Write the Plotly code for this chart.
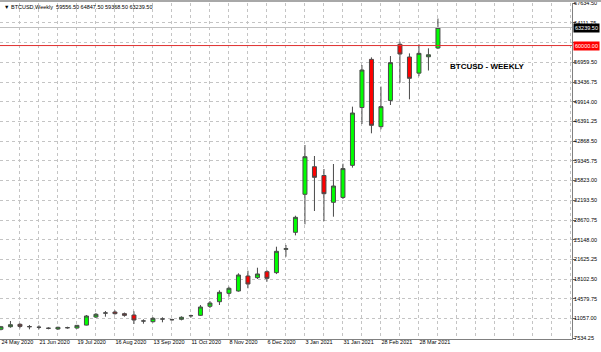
import plotly.graph_objects as go

# ---- data ----
WEEKS = ["2020-05-24", "2020-05-31", "2020-06-07", "2020-06-14", "2020-06-21", "2020-06-28",
         "2020-07-05", "2020-07-12", "2020-07-19", "2020-07-26", "2020-08-02", "2020-08-09",
         "2020-08-16", "2020-08-23", "2020-08-30", "2020-09-06", "2020-09-13", "2020-09-20",
         "2020-09-27", "2020-10-04", "2020-10-11", "2020-10-18", "2020-10-25", "2020-11-01",
         "2020-11-08", "2020-11-15", "2020-11-22", "2020-11-29", "2020-12-06", "2020-12-13",
         "2020-12-20", "2020-12-27", "2021-01-03", "2021-01-10", "2021-01-17", "2021-01-24",
         "2021-01-31", "2021-02-07", "2021-02-14", "2021-02-21", "2021-02-28", "2021-03-07",
         "2021-03-14", "2021-03-21", "2021-03-28", "2021-04-04", "2021-04-11"]

OPEN = [9095, 9561, 9990, 9590, 9470, 9290, 9150, 9370, 9330, 9850, 11302, 12000,
        12198, 11900, 11660, 10600, 10460, 10950, 10830, 10890, 11530, 11600, 13220, 14046,
        15554, 15966, 18657, 18358, 19430, 19260, 23450, 26495, 33314, 38265, 36691, 31878,
        32753, 38512, 48880, 57523, 45450, 50150, 60225, 57946, 55053, 57990, 59556.5]
HIGH = [9700, 10584, 10170, 9870, 9800, 9455, 9560, 9560, 9880, 11660, 12019, 12378,
        12500, 12100, 12325, 10884, 11300, 11250, 11000, 11430, 11720, 13454, 14170, 16090,
        16737, 19140, 19610, 20145, 19700, 23913, 24218, 29474, 42158, 40185, 37853, 38750,
        38803, 49040, 56510, 57880, 52640, 58120, 60690, 58600, 60225, 59500, 64847.5]
LOW = [8900, 9380, 9275, 9095, 9095, 9095, 9000, 9200, 9200, 9800, 11122, 11360,
       11720, 11360, 10046, 10100, 10300, 10350, 10650, 10700, 11200, 11480, 12900, 13454,
       14943, 15850, 16450, 18120, 17640, 19000, 22120, 25950, 27932, 30318, 28500, 29296,
       32470, 38100, 45925, 44257, 44975, 49335, 53335, 50355, 54500, 55520, 59368.5]
CLOSE = [9561, 9920, 9620, 9560, 9454, 9275, 9454, 9390, 9800, 11481, 11786, 12030,
         11900, 11600, 10763, 10584, 11060, 10943, 10820, 11250, 11540, 13095, 13810, 15733,
         16450, 18837, 17222, 19020, 18240, 23085, 23550, 29186, 40059, 36360, 33421, 34803,
         37930, 47900, 55612, 45690, 49040, 56930, 58485, 54126, 58600, 58350, 63239.5]

# time-scale labels (bar index -> text)
X_LABELS = {0: "24 May 2020", 4: "21 Jun 2020", 8: "19 Jul 2020", 12: "16 Aug 2020",
            16: "13 Sep 2020", 20: "11 Oct 2020", 24: "8 Nov 2020", 28: "6 Dec 2020",
            32: "3 Jan 2021", 36: "31 Jan 2021", 40: "28 Feb 2021", 44: "28 Mar 2021"}

# price-scale labels (the 60482.25 label is hidden behind the level box in the reference)
Y_TICKS = [7534.25, 11057.00, 14579.75, 18102.50, 21625.25, 25148.00, 28670.75, 32193.50,
           35823.00, 39345.75, 42868.50, 46391.25, 49914.00, 53436.75, 56959.50, 60482.25,
           64111.75, 67634.50]
HIDDEN_Y_LABELS = [60482.25]

LEVEL = 60000.00          # red horizontal level
SYMBOL = "BTCUSD"
PERIOD = "Weekly"
TITLE_TEXT = "BTCUSD - WEEKLY"

# ---- figure ----
idx = list(range(len(WEEKS)))
last_close = CLOSE[-1]

fig = go.Figure()
fig.add_trace(go.Candlestick(
    x=idx, open=OPEN, high=HIGH, low=LOW, close=CLOSE,
    increasing=dict(fillcolor="#00ff00", line=dict(color="#4a4a4a", width=1)),
    decreasing=dict(fillcolor="#ff0000", line=dict(color="#4a4a4a", width=1)),
    whiskerwidth=0, showlegend=False, text=WEEKS, hoverinfo="x+y+text",
))

grid_vals = list(range(0, 62, 2))
grid_text = [X_LABELS.get(v, "") for v in grid_vals]

FONT = "Liberation Sans, Arial, sans-serif"
SMALL = 5.5

fig.update_layout(
    width=601, height=352,
    margin=dict(l=0, r=29, t=3, b=13),
    paper_bgcolor="white", plot_bgcolor="white",
    boxgap=0.4,
    font=dict(family=FONT, size=SMALL, color="black"),
    xaxis=dict(
        range=[-0.1, 60.11], rangeslider=dict(visible=False), automargin=False,
        tickvals=grid_vals, ticktext=grid_text, ticklabelposition="outside right",
        ticklabeloverflow="allow", ticklabelstandoff=-3, tickangle=0,
        showgrid=True, gridcolor="#c4c4c4", griddash="dot", gridwidth=1,
        showline=True, linecolor="#808080", linewidth=1,
        ticks="", zeroline=False, tickfont=dict(size=SMALL, color="black"),
    ),
    yaxis=dict(
        side="right", range=[7356, 67634.5], automargin=False,
        tickvals=Y_TICKS, ticklabeloverflow="allow", ticklabelstandoff=-3,
        ticktext=["" if v in HIDDEN_Y_LABELS else f"{v:.2f}" for v in Y_TICKS],
        showgrid=True, gridcolor="#c4c4c4", griddash="dot", gridwidth=1,
        showline=True, linecolor="#808080", linewidth=1,
        ticks="outside", ticklen=3, tickcolor="#606060",
        zeroline=False, tickfont=dict(size=SMALL, color="black"),
    ),
    shapes=[
        dict(type="line", xref="paper", yref="y", x0=0, x1=1, y0=last_close, y1=last_close,
             line=dict(color="#c0c0c0", width=1)),
        dict(type="line", xref="paper", yref="y", x0=0, x1=1, y0=LEVEL, y1=LEVEL,
             line=dict(color="#e03030", width=1)),
        dict(type="line", xref="paper", yref="paper", x0=0, x1=601 / 572,
             y0=1 + 2 / 336, y1=1 + 2 / 336, line=dict(color="#a8a8a8", width=2)),
    ],
    annotations=[
        dict(xref="paper", yref="y", x=1.001, y=last_close, xanchor="left", yanchor="middle",
             text=f"{last_close:.2f}", showarrow=False, bgcolor="black",
             font=dict(color="white", size=SMALL), borderpad=1),
        dict(xref="paper", yref="y", x=1.001, y=LEVEL, xanchor="left", yanchor="middle",
             text=f"{LEVEL:.2f}", showarrow=False, bgcolor="#ff0000",
             font=dict(color="white", size=SMALL), borderpad=1),
        dict(xref="paper", yref="paper", x=0.004, y=1 - 4 / 336, xanchor="left", yanchor="middle",
             text=f"▼ {SYMBOL},{PERIOD}  {OPEN[-1]:.2f} {HIGH[-1]:.2f} {LOW[-1]:.2f} {CLOSE[-1]:.2f}",
             showarrow=False, font=dict(size=SMALL, color="black")),
        dict(xref="paper", yref="paper", x=448 / 572, y=(339 - 66) / 336,
             xanchor="left", yanchor="middle", text=f"<b>{TITLE_TEXT}</b>",
             showarrow=False, font=dict(size=8, color="black")),
    ],
)

fig.write_html("out.html")
